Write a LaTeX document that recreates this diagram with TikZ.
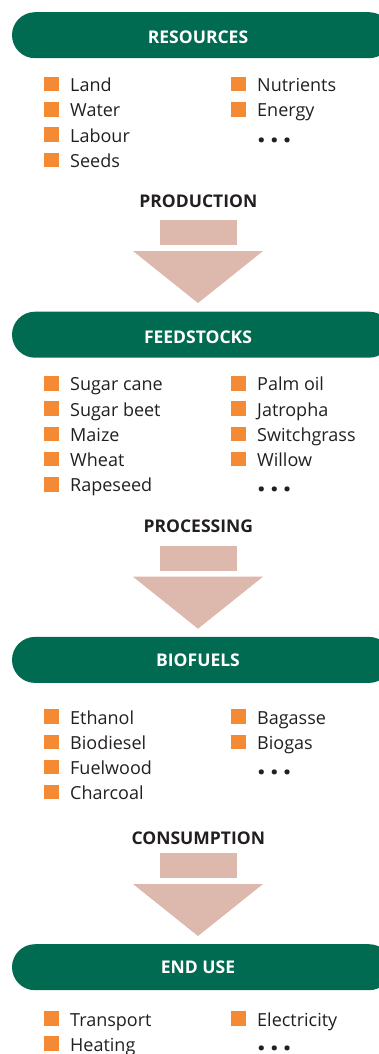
\documentclass[tikz,border=0pt]{standalone}
\usepackage{fontspec}
\setmainfont{Open Sans}
\definecolor{barGreen}{HTML}{006B50}
\definecolor{bulletOrange}{HTML}{F58A35}
\definecolor{arrowPink}{HTML}{DDB8AC}
\definecolor{textGray}{HTML}{231F20}
\tikzset{
  bar/.style={fill=barGreen, minimum width=380pt, minimum height=46pt,
    rounded corners=23pt, inner sep=0pt, anchor=north},
  header/.style={anchor=base, inner sep=0pt, text=white,
    font=\fontsize{17.5}{20}\selectfont\bfseries},
  steplabel/.style={anchor=base, inner sep=0pt, text=textGray,
    font=\fontsize{17.5}{20}\selectfont\bfseries},
  bullet/.style={fill=bulletOrange, minimum size=14.5pt, inner sep=0pt,
    anchor=south west},
  item/.style={anchor=base west, inner sep=0pt, text=textGray,
    font=\fontsize{18}{20}\selectfont},
  more/.style={anchor=base west, inner sep=0pt, text=textGray,
    text height=5pt, text depth=0pt,
    font=\fontsize{30}{30}\selectfont\bfseries},
  shaft/.style={fill=arrowPink, minimum width=76.7pt, minimum height=25pt,
    inner sep=0pt, anchor=north}
}
\newcommand{\moredots}{.\kern4.3pt.\kern4.3pt.}
\begin{document}
\begin{tikzpicture}[x=1pt,y=-1pt]
    \useasboundingbox (0,0) rectangle (378,1054);

    % Balken mit Überschrift
    \node[bar] (resbar) at (202,12) {};
    \node[header] (resources) at (198,43.3) {RESOURCES};
    \node[bar] (feedbar) at (202,311.5) {};
    \node[header] (feedstocks) at (198,343.3) {FEEDSTOCKS};
    \node[bar] (fuelbar) at (202,636.7) {};
    \node[header] (biofuels) at (198,666.7) {BIOFUELS};
    \node[bar] (usebar) at (202,944) {};
    \node[header] (enduse) at (198,973.3) {END USE};

    % Ressourcen
    \foreach \name [count=\i from 0] in {Land,Water,Labour,Seeds} {
      \node[bullet] (resbl\i) at (44,91.7+25.2*\i) {};
      \node[item] (resl\i) at (70,91.7+25.2*\i) {\name};
    }
    \foreach \name [count=\i from 0] in {Nutrients,Energy} {
      \node[bullet] (resbr\i) at (231,91.7+25.2*\i) {};
      \node[item] (resr\i) at (257,91.7+25.2*\i) {\name};
    }
    \node[more] (resmore) at (257,142.1) {\moredots};

    % Rohstoffe
    \foreach \name [count=\i from 0] in {Sugar cane,Sugar beet,Maize,Wheat,Rapeseed} {
      \node[bullet] (feedbl\i) at (44,390.7+25.3*\i) {};
      \node[item] (feedl\i) at (70,390.7+25.3*\i) {\name};
    }
    \foreach \name [count=\i from 0] in {Palm oil,Jatropha,Switchgrass,Willow} {
      \node[bullet] (feedbr\i) at (231,390.7+25.3*\i) {};
      \node[item] (feedr\i) at (257,390.7+25.3*\i) {\name};
    }
    \node[more] (feedmore) at (257,491.9) {\moredots};

    % Biokraftstoffe
    \foreach \name [count=\i from 0] in {Ethanol,Biodiesel,Fuelwood,Charcoal} {
      \node[bullet] (fuelbl\i) at (44,724+25.2*\i) {};
      \node[item] (fuell\i) at (70,724+25.2*\i) {\name};
    }
    \foreach \name [count=\i from 0] in {Bagasse,Biogas} {
      \node[bullet] (fuelbr\i) at (231,724+25.2*\i) {};
      \node[item] (fuelr\i) at (257,724+25.2*\i) {\name};
    }
    \node[more] (fuelmore) at (257,774.4) {\moredots};

    % Endnutzung
    \foreach \name [count=\i from 0] in {Transport,Heating} {
      \node[bullet] (usebl\i) at (44,1026+25*\i) {};
      \node[item] (usel\i) at (70,1026+25*\i) {\name};
    }
    \node[bullet] (usebr0) at (231,1026) {};
    \node[item] (user0) at (257,1026) {Electricity};
    \node[more] (usemore) at (257,1050) {\moredots};

    % Pfeile zwischen den Stufen
    \foreach \lab/\ly/\sy/\hy in {PRODUCTION/207.3/220/251,
        PROCESSING/532/545.7/576.7, CONSUMPTION/844.3/852.3/884} {
      \node[steplabel] (step-\lab) at (198.3,\ly) {\lab};
      \node[shaft] (shaft-\lab) at (198.3,\sy) {};
      \fill[arrowPink] (133,\hy) -- (263,\hy) -- (198,\hy+52) -- cycle;
    }
\end{tikzpicture}
\end{document}
